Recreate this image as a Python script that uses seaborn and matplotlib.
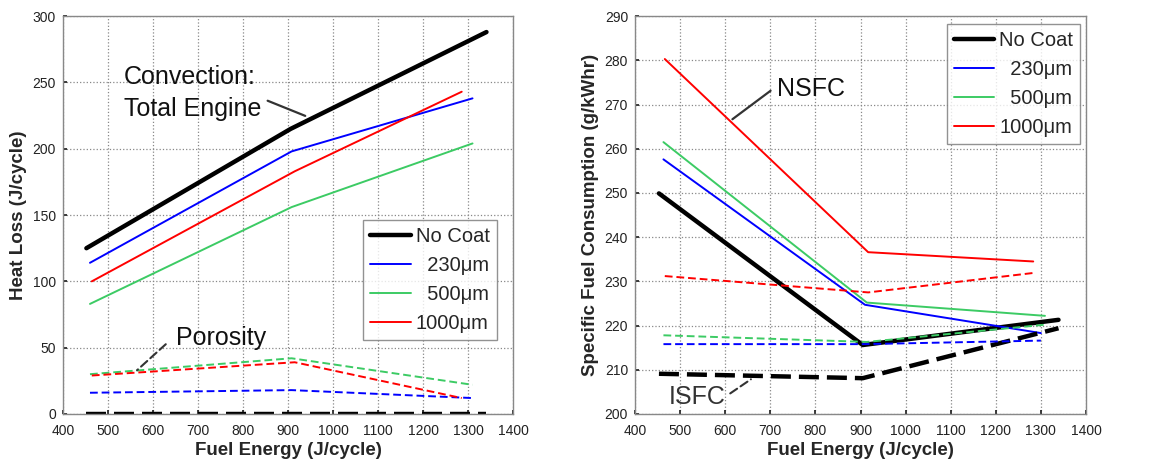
import matplotlib
matplotlib.use("Agg")
import matplotlib.pyplot as plt
import seaborn as sns
import pandas as pd

# ---------------- data ----------------
coatings = ["No Coat", "230μm", "500μm", "1000μm"]
legend_labels = ["No Coat", "  230μm", "  500μm", "1000μm"]
colors = ["#000000", "#0000FF", "#3CCB64", "#FF0000"]

# Heat loss (left panel)
conv_x = {"No Coat": [452, 906, 1341], "230μm": [460, 908, 1310],
          "500μm": [460, 908, 1310], "1000μm": [464, 915, 1286]}
conv_y = {"No Coat": [125, 215, 288], "230μm": [114, 198, 238],
          "500μm": [83, 156, 204], "1000μm": [100, 183, 243]}
poro_x = {"No Coat": [452, 906, 1341], "230μm": [460, 908, 1310],
          "500μm": [460, 908, 1310], "1000μm": [464, 915, 1286]}
poro_y = {"No Coat": [0, 0, 0], "230μm": [16, 18, 12],
          "500μm": [30, 42, 22], "1000μm": [29, 39, 12]}

# Specific fuel consumption (right panel)
sfc_x = {"No Coat": [453, 905, 1339], "230μm": [463, 910, 1300],
         "500μm": [463, 914, 1309], "1000μm": [466, 917, 1283]}
nsfc_y = {"No Coat": [249.9, 215.6, 221.3], "230μm": [257.6, 224.7, 218.3],
          "500μm": [261.5, 225.2, 222.2], "1000μm": [280.3, 236.6, 234.5]}
isfc_y = {"No Coat": [209.1, 208.1, 219.4], "230μm": [215.8, 215.8, 216.6],
          "500μm": [217.8, 216.3, 220.2], "1000μm": [231.2, 227.5, 231.9]}

x_ticks = list(range(400, 1401, 100))
left_yticks = list(range(0, 301, 50))
right_yticks = list(range(200, 291, 10))

# ---------------- style ----------------
sns.set_theme(style="white")
plt.rcParams["font.family"] = ["Liberation Sans", "DejaVu Sans"]

fig = plt.figure(figsize=(11.62, 4.61), dpi=100)
ax1 = fig.add_axes([0.0542, 0.102, 0.3873, 0.863])
ax2 = fig.add_axes([0.5465, 0.102, 0.3881, 0.863])

def lw_of(c):
    return 3.2 if c == "No Coat" else 1.4

def draw(ax, xs, ys, dashed):
    for c, col in zip(coatings, colors):
        df = pd.DataFrame({"x": xs[c], "y": ys[c]})
        if dashed:
            ls = (0, (4.5, 1.8)) if c == "No Coat" else (0, (4, 2))
            lab = None
        else:
            ls = "-"
            lab = legend_labels[coatings.index(c)]
        sns.lineplot(data=df, x="x", y="y", ax=ax, color=col, lw=lw_of(c),
                     linestyle=ls, sort=False, estimator=None, label=lab,
                     legend=False)

draw(ax1, conv_x, conv_y, False)
draw(ax1, poro_x, poro_y, True)
draw(ax2, sfc_x, nsfc_y, False)
draw(ax2, sfc_x, isfc_y, True)

for ax, yt in ((ax1, left_yticks), (ax2, right_yticks)):
    ax.set_xlim(400, 1400)
    ax.set_ylim(yt[0], yt[-1])
    ax.set_xticks(x_ticks)
    ax.set_yticks(yt)
    ax.grid(True, linestyle=":", color="#888888", lw=0.9)
    ax.tick_params(axis="both", labelsize=10, colors="#222222", direction="in",
                   length=3, left=True, bottom=True)
    ax.tick_params(axis="x", pad=7)
    ax.tick_params(axis="y", pad=5)
    for s in ax.spines.values():
        s.set_color("#888888")
        s.set_linewidth(1.0)
    ax.set_xlabel("Fuel Energy (J/cycle)", fontsize=13.5, fontweight="bold",
                  labelpad=3)
    leg = ax.legend(fontsize=14.5, frameon=True, fancybox=False,
                    edgecolor="#777777", handlelength=2.0, handletextpad=0.25,
                    labelspacing=0.5, borderpad=0.35, borderaxespad=0,
                    loc="lower right" if ax is ax1 else "upper right",
                    bbox_to_anchor=(0.964, 0.186) if ax is ax1 else (0.987, 0.98))
    leg.get_frame().set_linewidth(1.0)

ax1.set_ylabel("Heat Loss (J/cycle)", fontsize=13.5, fontweight="bold", labelpad=4)
ax2.set_ylabel("Specific Fuel Consumption (g/kWhr)", fontsize=13.5,
               fontweight="bold", labelpad=4)

# annotations
ax1.text(535, 242, "Convection:\nTotal Engine", fontsize=18, ha="left",
         va="center", color="#111111", linespacing=1.4)
ax1.annotate("", xy=(944, 224), xytext=(849, 237),
             arrowprops=dict(arrowstyle="-", color="#333333", lw=1.6))
ax1.text(651, 57, "Porosity", fontsize=18, ha="left", va="center",
         color="#111111")
ax1.annotate("", xy=(560, 31.6), xytext=(633, 54),
             arrowprops=dict(arrowstyle="-", color="#333333", lw=1.5,
                             linestyle=(0, (4, 2))))
ax2.text(715, 273.5, "NSFC", fontsize=18, ha="left", va="center",
         color="#111111")
ax2.annotate("", xy=(611, 266.3), xytext=(705.5, 273.5),
             arrowprops=dict(arrowstyle="-", color="#333333", lw=1.6))
ax2.text(475, 203.9, "ISFC", fontsize=18, ha="left", va="center",
         color="#333333")
ax2.annotate("", xy=(662, 208.2), xytext=(606, 204.3),
             arrowprops=dict(arrowstyle="-", color="#333333", lw=1.5,
                             linestyle=(0, (4, 2))))

fig.savefig("out.png", dpi=100)
